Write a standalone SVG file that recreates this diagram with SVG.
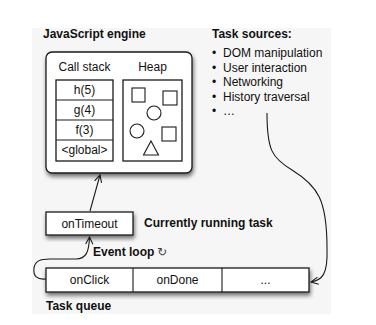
<svg xmlns="http://www.w3.org/2000/svg" width="376" height="325" viewBox="0 0 376 325">
<defs>
<style>
text{font-family:"Liberation Sans",Arial,sans-serif;font-size:12px;fill:#111}
.b{font-weight:bold}
.c{text-anchor:middle}
.box{fill:#fff;stroke:#1a1a1a;stroke-width:1.3}
.shape{fill:none;stroke:#1a1a1a;stroke-width:1.1}
.conn{fill:none;stroke:#1a1a1a;stroke-width:1.1;marker-end:url(#arr)}
</style>
<filter id="sh" x="-10%" y="-10%" width="125%" height="140%">
<feDropShadow dx="1" dy="3" stdDeviation="2" flood-color="#000" flood-opacity="0.55"/>
</filter>
<marker id="arr" viewBox="0 0 10 10" refX="9" refY="5" markerWidth="9" markerHeight="9" markerUnits="userSpaceOnUse" orient="auto">
<path d="M1,1 L9,5 L1,9" fill="none" stroke="#1a1a1a" stroke-width="1.2"/>
</marker>
</defs>
<rect x="0" y="0" width="376" height="325" fill="#fff"/>
<rect x="32" y="28" width="299" height="286" fill="#f6f6f6"/>

<g id="engine">
<text class="b" x="43" y="38">JavaScript engine</text>
<rect class="box" x="46" y="52" width="146" height="121" rx="6" filter="url(#sh)"/>
</g>
<g id="callstack">
<text class="c" x="84.5" y="71">Call stack</text>
<rect class="box" x="56" y="80" width="57" height="81"/>
<line class="shape" x1="56" y1="100" x2="113" y2="100"/>
<line class="shape" x1="56" y1="120" x2="113" y2="120"/>
<line class="shape" x1="56" y1="140" x2="113" y2="140"/>
<text class="c" x="84.5" y="94">h(5)</text>
<text class="c" x="84.5" y="114">g(4)</text>
<text class="c" x="84.5" y="134">f(3)</text>
<text class="c" x="84.5" y="154">&lt;global&gt;</text>
</g>
<g id="heap">
<text class="c" x="152.5" y="71">Heap</text>
<rect class="box" x="123" y="80" width="59" height="81"/>
<rect class="shape" x="132" y="88" width="13" height="14"/>
<rect class="shape" x="163" y="91" width="14" height="14"/>
<circle class="shape" cx="154" cy="113" r="7"/>
<circle class="shape" cx="137" cy="131" r="7"/>
<rect class="shape" x="162" y="127" width="14" height="14"/>
<path class="shape" d="M151,141 L158.5,155 L143.5,155 Z"/>
</g>
<g id="tasksources">
<text class="b" x="212" y="38">Task sources:</text>
<text x="212" y="57">•</text><text x="223" y="57">DOM manipulation</text>
<text x="212" y="72">•</text><text x="223" y="72">User interaction</text>
<text x="212" y="86">•</text><text x="223" y="86">Networking</text>
<text x="212" y="101">•</text><text x="223" y="101">History traversal</text>
<text x="212" y="115">•</text><text x="223" y="115">…</text>
</g>
<g id="current">
<rect class="box" x="46" y="212" width="87" height="23" filter="url(#sh)"/>
<text class="c" x="89.5" y="228">onTimeout</text>
<text class="b" x="144" y="227">Currently running task</text>
</g>
<g id="eventloop">
<text class="b" x="93" y="256">Event loop</text>
<text x="157" y="256" style="font-family:'DejaVu Sans',sans-serif;font-size:12px;fill:#444">↻</text>
</g>
<g id="queue">
<rect class="box" x="46" y="268" width="263" height="24" filter="url(#sh)"/>
<line class="shape" x1="133" y1="268" x2="133" y2="292"/>
<line class="shape" x1="222" y1="268" x2="222" y2="292"/>
<text class="c" x="89.5" y="284">onClick</text>
<text class="c" x="177.5" y="284">onDone</text>
<text class="c" x="265.5" y="284">...</text>
<text class="b" x="46" y="310">Task queue</text>
</g>
<g id="connectors">
<path class="conn" d="M90,211 L100,175"/>
<path class="conn" d="M46,279 C37,280 33,276 34,268 C35,261 40,259 50,259 L76,259 C86,259 89,252 89.5,237"/>
<path class="conn" d="M267,113 C267,150 272,158 292,170 C318,186 327,200 327,248 C328,275 322,280 311,282"/>
</g>
</svg>
